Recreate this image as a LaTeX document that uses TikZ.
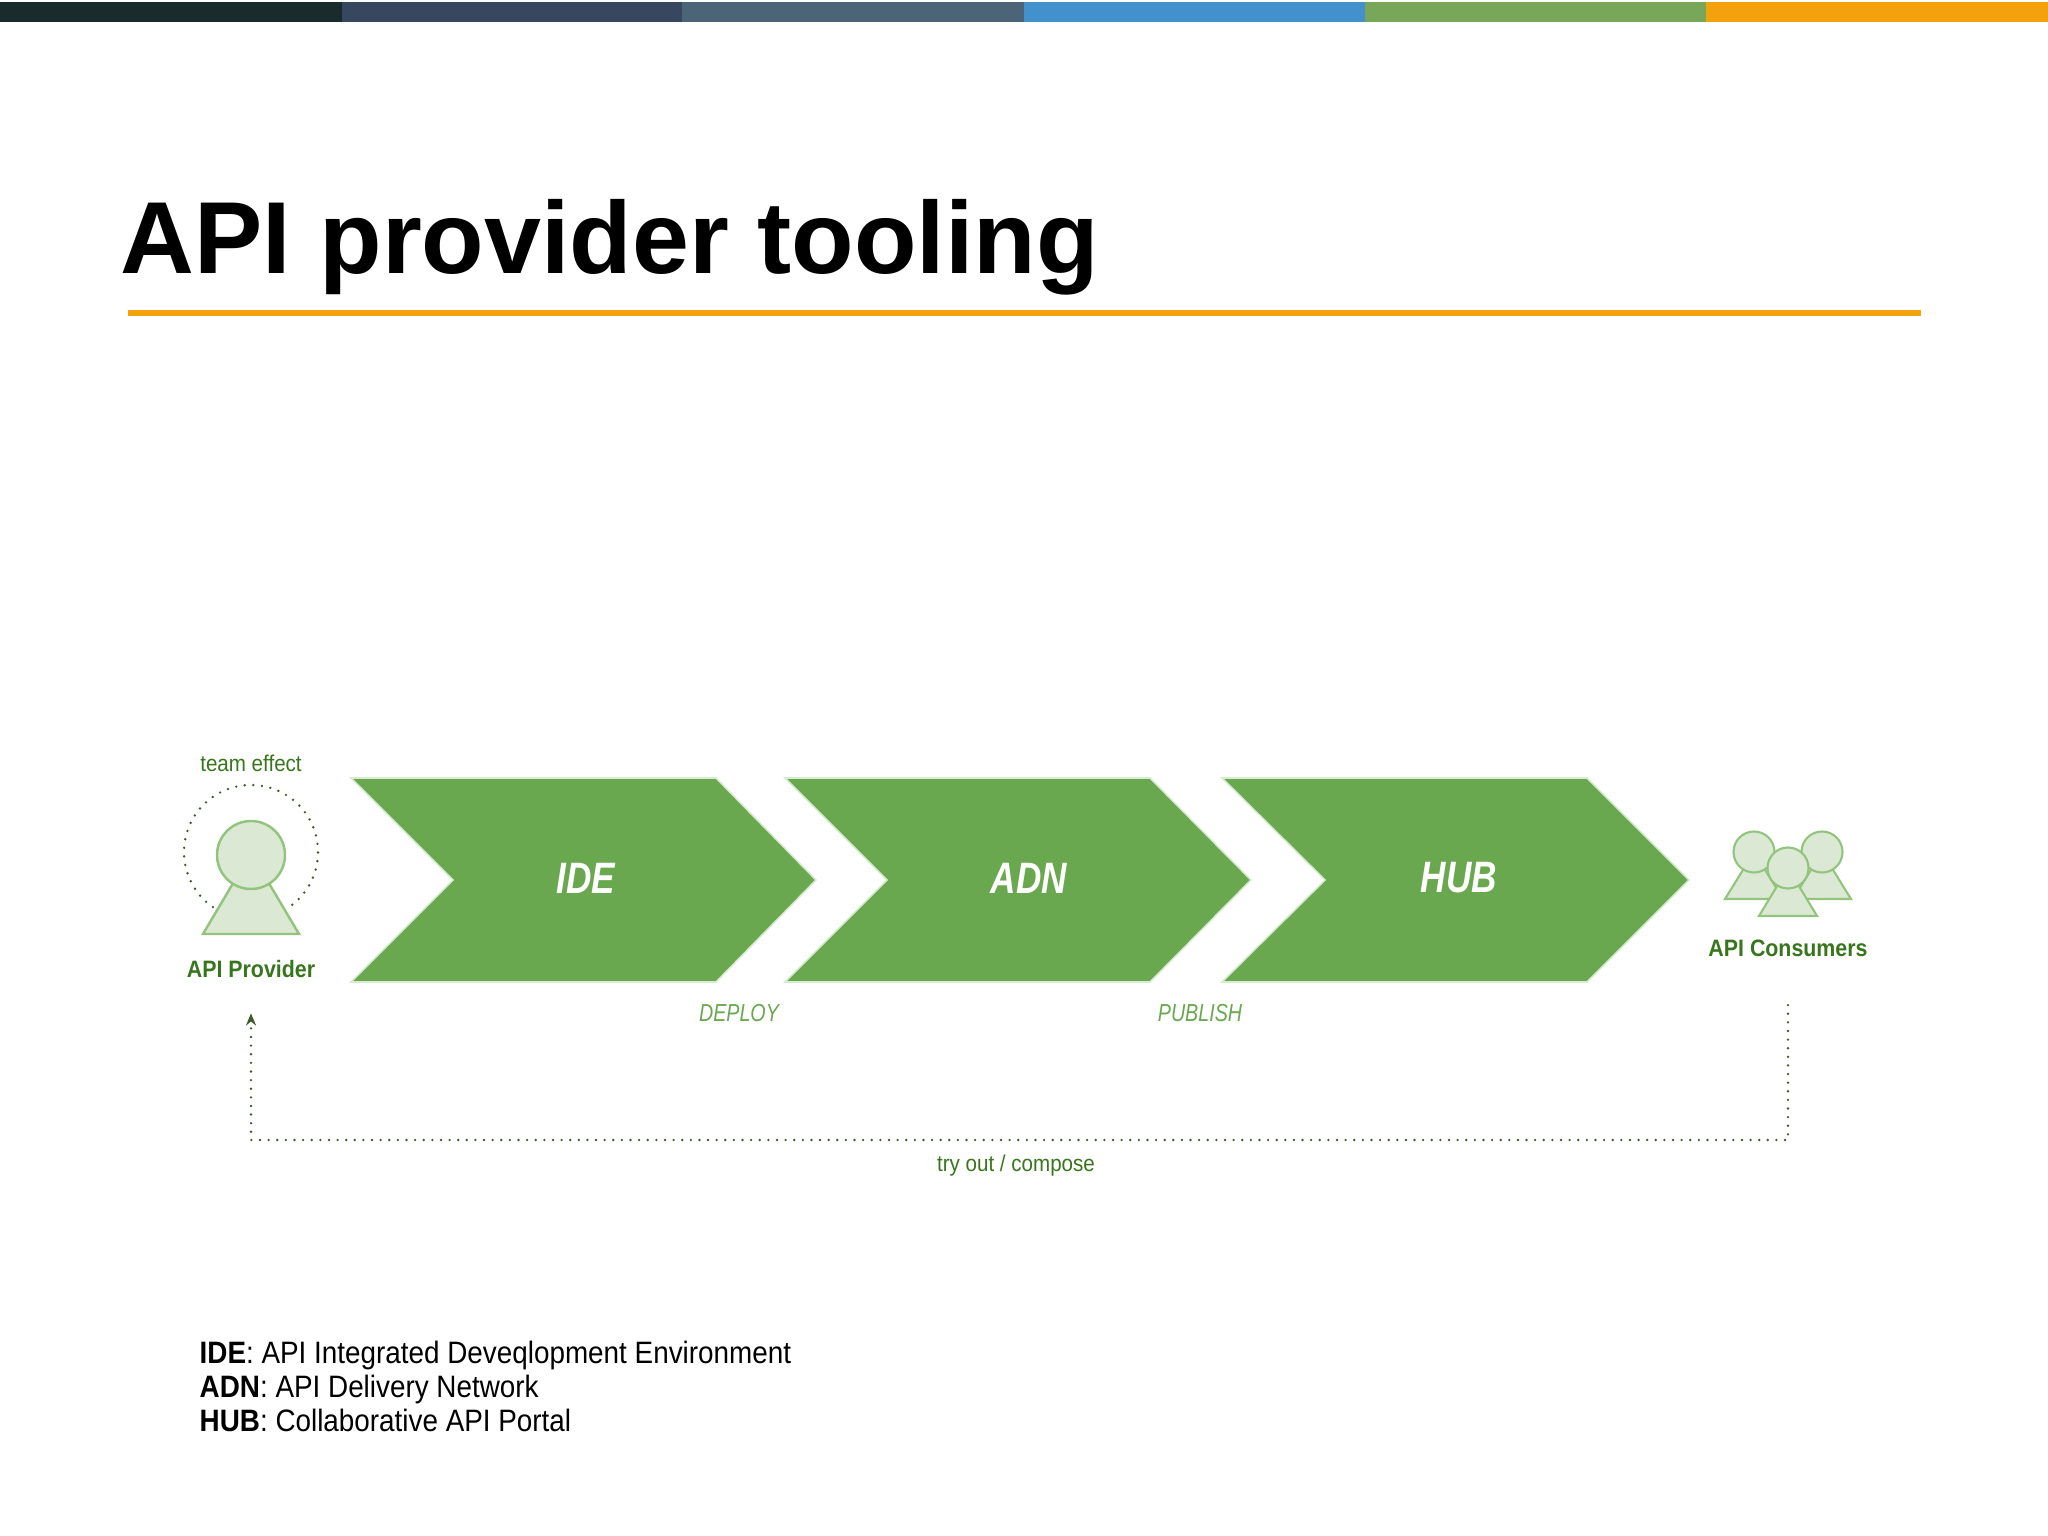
\documentclass[tikz,border=0pt]{standalone}
\usepackage{fontspec}
\usepackage{xcolor}
\setmainfont{Liberation Sans}
\newfontfamily\labelfont[FakeStretch=0.9]{Liberation Sans}
\newfontfamily\stagefont[FakeStretch=0.8]{Liberation Sans}
\usetikzlibrary{arrows.meta,positioning,calc}
\definecolor{barone}{RGB}{26,43,46}
\definecolor{bartwo}{RGB}{55,71,95}
\definecolor{barthree}{RGB}{75,100,120}
\definecolor{barfour}{RGB}{67,145,204}
\definecolor{barfive}{RGB}{120,167,90}
\definecolor{barsix}{RGB}{243,161,12}
\definecolor{stagegreen}{RGB}{106,168,79}
\definecolor{stageedge}{RGB}{217,234,211}
\definecolor{iconfill}{RGB}{219,233,212}
\definecolor{iconline}{RGB}{147,196,125}
\definecolor{textgreen}{RGB}{56,118,29}
\definecolor{dotgreen}{RGB}{62,90,40}

\begin{document}
\begin{tikzpicture}[
    x=0.01cm, y=0.01cm,
    stage/.style={fill=stagegreen, draw=stageedge, line width=0.45pt, line join=miter},
    stagetext/.style={inner sep=0pt, text=white, font=\stagefont\fontsize{12.5}{16}\selectfont\bfseries\itshape},
    steptext/.style={inner sep=0pt, text=stagegreen, font=\stagefont\fontsize{7}{8}\selectfont\itshape},
    smalltext/.style={inner sep=0pt, text=textgreen, font=\labelfont\fontsize{6.5}{8}\selectfont},
    roletext/.style={inner sep=0pt, text=textgreen, font=\labelfont\fontsize{6.75}{8}\selectfont\bfseries},
    icon/.style={fill=iconfill, draw=iconline, line width=0.7pt, line join=miter},
    dotline/.style={draw=dotgreen, line width=0.75pt, line cap=round, dash pattern=on 0pt off 2.45pt}
]
    \useasboundingbox (0,0) rectangle (2048,1536);

    % Top colour band
    \fill[barone] (0,1514) rectangle (342,1534);
    \fill[bartwo] (342,1514) rectangle (682,1534);
    \fill[barthree] (682,1514) rectangle (1024,1534);
    \fill[barfour] (1024,1514) rectangle (1365,1534);
    \fill[barfive] (1365,1514) rectangle (1706,1534);
    \fill[barsix] (1706,1514) rectangle (2048,1534);

    % Heading
    \node[anchor=base west, inner sep=0pt, font=\fontsize{29.1}{34}\selectfont\bfseries] (title) at (120,1262) {API provider tooling};
    \fill[barsix] (128,1220) rectangle (1921,1226);

    % Chevrons
    \draw[stage] (351,758) -- (716,758) -- (816,656) -- (716,554) -- (351,554) -- (453,656) -- cycle;
    \draw[stage] (785,758) -- (1150,758) -- (1251,656) -- (1150,554) -- (785,554) -- (887,656) -- cycle;
    \draw[stage] (1222,758) -- (1587,758) -- (1689,656) -- (1587,554) -- (1222,554) -- (1325,656) -- cycle;
    \node[stagetext] (ide) at (586,658) {IDE};
    \node[stagetext] (adn) at (1029,658) {ADN};
    \node[stagetext] (hub) at (1459,658) {HUB};
    \node[steptext] (deploy) at (739,523) {DEPLOY};
    \node[steptext] (publish) at (1200,523) {PUBLISH};

    % Provider figure
    \coordinate (ring) at (251,684);
    \draw[dotline] (ring) ++(308:67) arc[start angle=308, delta angle=288, radius=67];
    \draw[icon] (251,683) -- (299,602) -- (203,602) -- cycle;
    \draw[icon] (251,681) circle[radius=34];
    \node[smalltext] (team) at (251,773) {team effect};
    \node[roletext] (provider) at (251,567) {API Provider};

    % Consumer figures
    \draw[icon, line width=0.6pt] (1754,684) -- (1783,637) -- (1725,637) -- cycle;
    \draw[icon, line width=0.6pt] (1754,684) circle[radius=20.5];
    \draw[icon, line width=0.6pt] (1822,684) -- (1851,637) -- (1793,637) -- cycle;
    \draw[icon, line width=0.6pt] (1822,684) circle[radius=20.5];
    \draw[icon, line width=0.6pt] (1788,668) -- (1817,620) -- (1759,620) -- cycle;
    \draw[icon, line width=0.6pt] (1788,668) circle[radius=20.5];
    \node[roletext] (consumers) at (1788,588) {API Consumers};

    % Feedback path
    \coordinate (turnright) at (consumers.south |- 0,396);
    \coordinate (turnleft) at (provider.south |- 0,396);
    \draw[dotline, shorten <=0.48cm, shorten >=0.35cm, -{Stealth[length=0.12cm, width=0.1cm]}, dotgreen] (consumers.south) -- (turnright) -- (turnleft) -- (provider.south);
    \node[smalltext, anchor=base] (tryout) at (1016,364) {try out / compose};

    % Legend
    \node[anchor=west, align=left, inner sep=0pt, font=\labelfont\fontsize{8.8}{9.67}\selectfont] (legend) at (199,150) {\textbf{IDE}: API Integrated Deveqlopment Environment\\\textbf{ADN}: API Delivery Network\\\textbf{HUB}: Collaborative API Portal};
\end{tikzpicture}
\end{document}
